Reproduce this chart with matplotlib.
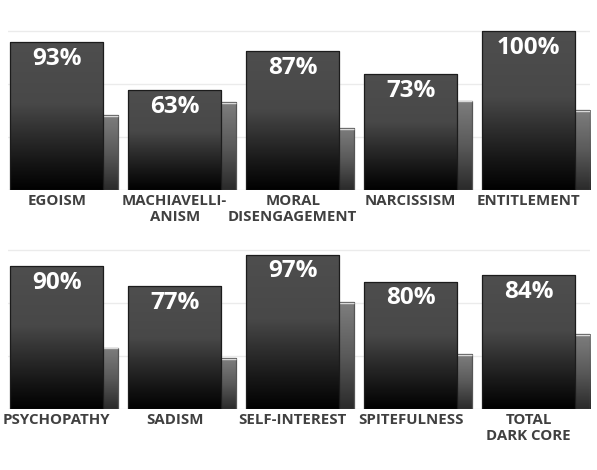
import numpy as np
import matplotlib
matplotlib.use("Agg")
import matplotlib.pyplot as plt
from matplotlib.colors import LinearSegmentedColormap

# ---- data ----
top_labels = ["EGOISM", "MACHIAVELLI-\nANISM", "MORAL\nDISENGAGEMENT", "NARCISSISM", "ENTITLEMENT"]
top_main = [93, 63, 87, 73, 100]
top_comp = [47, 55, 39, 56, 50]

bot_labels = ["PSYCHOPATHY", "SADISM", "SELF-INTEREST", "SPITEFULNESS", "TOTAL\nDARK CORE"]
bot_main = [90, 77, 97, 80, 84]
bot_comp = [38.5, 32, 67, 34.5, 47]

W, H = 597, 470
fig = plt.figure(figsize=(W / 100, H / 100), dpi=100)
fig.patch.set_facecolor("white")

FONT = ["Open Sans", "DejaVu Sans"]

main_cmap = LinearSegmentedColormap.from_list(
    "main", [(0.0, "#4e4e4e"), (0.42, "#484848"), (0.62, "#2e2e2e"),
             (0.82, "#151515"), (1.0, "#010101")])
comp_cmap = LinearSegmentedColormap.from_list(
    "comp", [(0.0, "#7e7e7e"), (0.5, "#5a5a5a"), (1.0, "#2a2a2a")])

BW = 0.79      # main bar width
EXT = 0.127    # comparison bar sticking out on the right


def gradient_bar(ax, x0, x1, h, cmap, z, edge, top_line=None):
    rect = ax.bar(x0, h, width=x1 - x0, align="edge", bottom=0,
                  facecolor="none", edgecolor=edge, linewidth=0.9, zorder=z + 0.1)[0]
    grad = np.linspace(0, 1, 256).reshape(-1, 1)
    im = ax.imshow(grad, cmap=cmap, aspect="auto", extent=(x0, x1, 0, h),
                   origin="upper", zorder=z, interpolation="bicubic")
    im.set_clip_path(rect)
    if top_line:
        ax.plot([x0, x1], [h - 0.4, h - 0.4], color=top_line, lw=1.0,
                zorder=z + 0.2, solid_capstyle="butt")
    return rect


def panel(rect_px, labels, main, comp):
    x0p, y0p, x1p, y1p = rect_px
    ax = fig.add_axes([x0p / W, 1 - y1p / H, (x1p - x0p) / W, (y1p - y0p) / H])
    ax.set_xlim(-0.413, 4.52)
    ax.set_ylim(0, 100.5)
    for g in [0, 100 / 3, 200 / 3, 100]:
        ax.axhline(g, color="#ebebeb", lw=1.0, zorder=0)
    for i, (lab, m, c) in enumerate(zip(labels, main, comp)):
        left = i - BW / 2
        right = i + BW / 2
        gradient_bar(ax, i, right + EXT, c, comp_cmap, 2, "#555555", top_line="#d8d8d8")
        gradient_bar(ax, left, right, m, main_cmap, 4, "#1c1c1c")
        ax.annotate(f"{m:g}%", xy=(i, m), xytext=(0, -3.5), textcoords="offset points",
                    ha="center", va="top", color="white", fontsize=17.5,
                    fontweight="bold", family=FONT, zorder=10)
        ax.annotate(lab, xy=(i, 0), xytext=(0, -3), textcoords="offset points",
                    ha="center", va="top", color="#404040", fontsize=10.8,
                    fontweight="bold", family=FONT, linespacing=1.2,
                    annotation_clip=False)
    ax.set_axis_off()
    return ax


panel((8, 30, 590, 190), top_labels, top_main, top_comp)
panel((8, 249, 590, 409), bot_labels, bot_main, bot_comp)

fig.savefig("out.png", dpi=100, facecolor="white")
